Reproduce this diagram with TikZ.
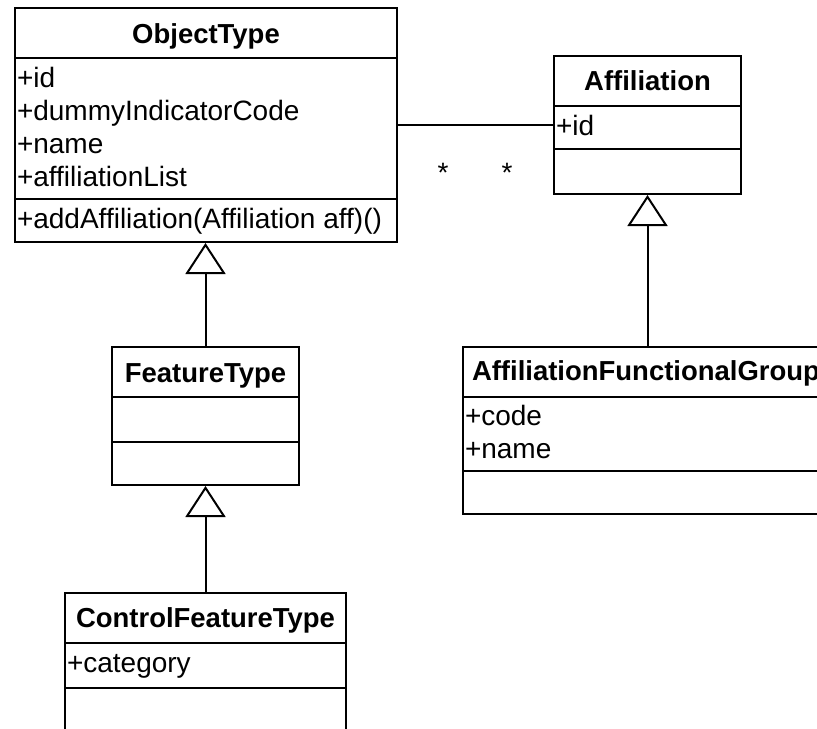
\documentclass[tikz,border=0pt]{standalone}
\usepackage{fontspec}
\setmainfont{Liberation Sans}
\usetikzlibrary{arrows.meta,fit}
\begin{document}
\begin{tikzpicture}[x=0.75pt,y=-0.75pt,
  line width=1.5pt,
  classbox/.style={draw=black, inner sep=0pt, line width=1.5pt},
  title/.style={font=\fontsize{20.6pt}{24pt}\selectfont\bfseries, inner sep=0pt, anchor=base},
  attr/.style={font=\fontsize{21pt}{24pt}\selectfont, inner sep=0pt, anchor=base west},
  mult/.style={font=\fontsize{21pt}{24pt}\selectfont, inner sep=0pt, anchor=base},
  inherit/.style={-{Triangle[open, length=23.25pt, width=30pt, line width=1.5pt]}, line width=1.5pt}
]
\useasboundingbox (0,0) rectangle (817,728);

% ObjectType
\node[classbox, fit={(15,8) (397,242)}] (ot) {};
\draw (15,58) -- (397,58);
\draw (15,199) -- (397,199);
\node[title] (otT) at (206,43) {ObjectType};
\node[attr] (ot1) at (16,87) {+id};
\node[attr] (ot2) at (16,120) {+dummyIndicatorCode};
\node[attr] (ot3) at (16,153) {+name};
\node[attr] (ot4) at (16,186) {+affiliationList};
\node[attr] (ot5) at (16,228) {+addAffiliation(Affiliation aff)()};

% Affiliation
\node[classbox, fit={(554,56) (741,194)}] (aff) {};
\draw (554,106) -- (741,106);
\draw (554,149) -- (741,149);
\node[title] (affT) at (647.5,90) {Affiliation};
\node[attr] (aff1) at (555,135) {+id};

% FeatureType
\node[classbox, fit={(112,347) (299,485)}] (ft) {};
\draw (112,397) -- (299,397);
\draw (112,442) -- (299,442);
\node[title] (ftT) at (205.5,382) {FeatureType};

% AffiliationFunctionalGroup
\node[classbox, fit={(463,347) (833,514)}] (afg) {};
\draw (463,397) -- (833,397);
\draw (463,471) -- (833,471);
\node[title, anchor=base west] (afgT) at (471,380) {AffiliationFunctionalGroup};
\node[attr] (afg1) at (464,425) {+code};
\node[attr] (afg2) at (464,458) {+name};

% ControlFeatureType
\node[classbox, fit={(65,593) (346,740)}] (cft) {};
\draw (65,643) -- (346,643);
\draw (65,688) -- (346,688);
\node[title] (cftT) at (205.5,627) {ControlFeatureType};
\node[attr] (cft1) at (66,672) {+category};

% association
\coordinate (assocy) at (0,125);
\draw (ot.east |- assocy) -- (aff.west |- assocy);
\node[mult] (m1) at (443,182) {*};
\node[mult] (m2) at (507,182) {*};

% generalizations
\draw[inherit] (ft.north) -- (ft.north |- ot.south);
\draw[inherit] (cft.north) -- (cft.north |- ft.south);
\draw[inherit] (afg.north -| aff.south) -- (aff.south);
\end{tikzpicture}
\end{document}
